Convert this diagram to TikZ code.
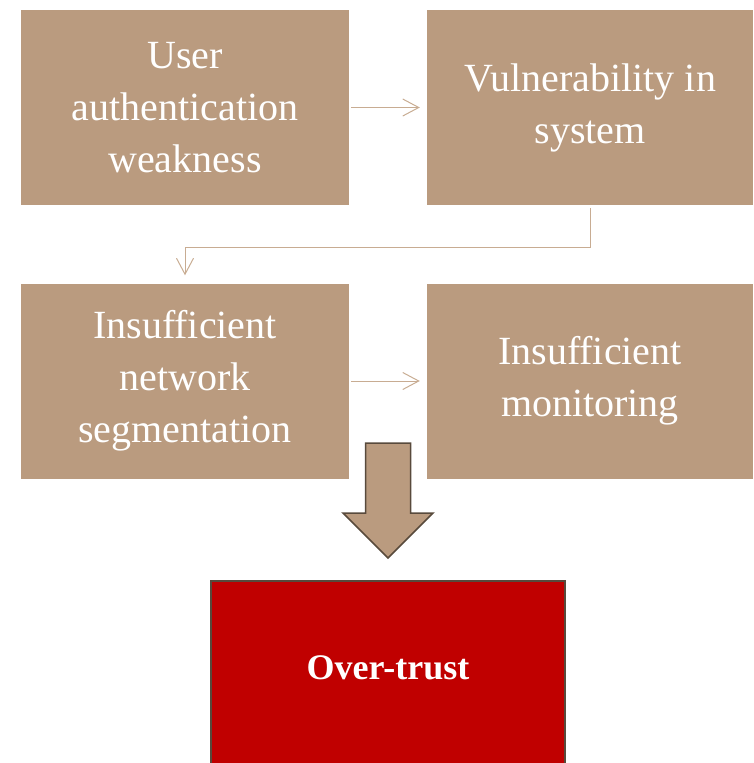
\documentclass[tikz,border=0pt]{standalone}
\usepackage{fontspec}
\setmainfont{Liberation Serif}
\usetikzlibrary{arrows.meta,calc}
\definecolor{boxtan}{RGB}{186,155,127}
\definecolor{linktan}{RGB}{200,172,146}
\definecolor{deepred}{RGB}{192,0,0}
\definecolor{edgebrown}{RGB}{88,74,60}
\tikzset{
  causebox/.style={fill=boxtan, draw=none, inner sep=0pt, text=white,
    minimum height=195pt, align=center,
    font=\fontsize{40}{52}\selectfont},
  link/.style={draw=linktan, line width=1pt,
    -{Straight Barb[length=16pt,width=17pt,line width=1pt]}},
  resultbox/.style={fill=deepred, draw=edgebrown, line width=1.5pt,
    minimum width=354pt, minimum height=194pt, inner sep=0pt},
  bigarrow/.style={fill=boxtan, draw=edgebrown, line width=1.5pt, line join=miter}
}
\begin{document}
\begin{tikzpicture}[x=1pt,y=-1pt]
\useasboundingbox (0,0) rectangle (753,763);
\clip (0,0) rectangle (753,763);

% contributing factors
\node[causebox, minimum width=328pt] (a) at (185,107.5) {User\\authentication\\weakness};
\node[causebox, minimum width=326pt] (b) at (590,107.5) {Vulnerability in\\system};
\node[causebox, minimum width=328pt] (c) at (185,381) {Insufficient\\network\\segmentation};
\node[causebox, minimum width=326pt] (d) at (590,381) {Insufficient\\monitoring};

% links between factors
\draw[link] ([xshift=2pt]a.east) -- ([xshift=-7pt]b.west);
\draw[link] ([yshift=-3pt]b.south) -- ++(0,39) -| ([yshift=8pt]c.north);
\draw[link] ([xshift=2pt]c.east) -- ([xshift=-7pt]d.west);

% outcome
\node[resultbox] (over) at (388,678) {};
\node[text=white, font=\bfseries\fontsize{36}{44}\selectfont] (overtext)
  at ([yshift=10pt]over.center) {Over-trust};

% block arrow towards the outcome
\draw[bigarrow] (365.5,443) -- (410.7,443) -- (410.7,513) -- (433,513)
  -- (388,558) -- (343,513) -- (365.5,513) -- cycle;
\end{tikzpicture}
\end{document}
